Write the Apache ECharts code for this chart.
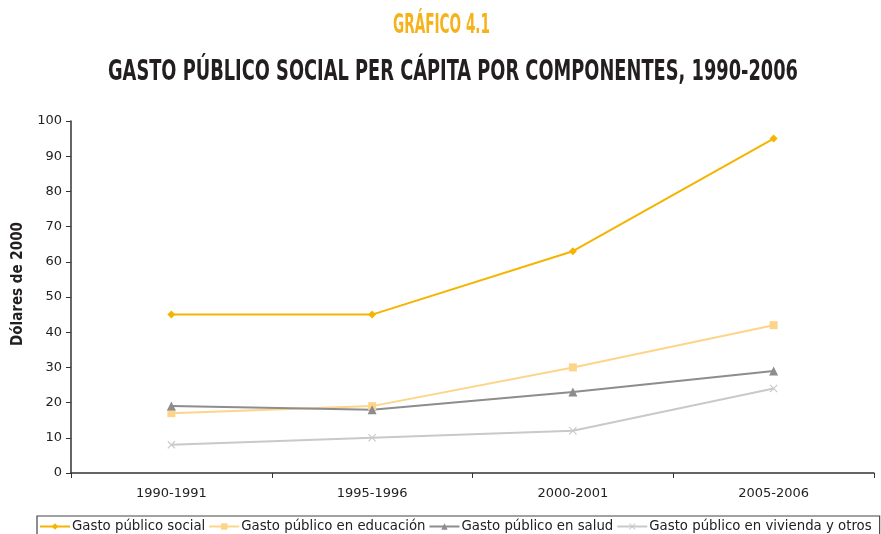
<!DOCTYPE html>
<html>
<head>
<meta charset="utf-8">
<script src="https://cdn.jsdelivr.net/npm/echarts@6/dist/echarts.min.js"></script>
<style>
  html, body { margin: 0; padding: 0; background: #fff; }
  #chart { width: 881px; height: 534px; }
</style>
</head>
<body>
<div id="chart"></div>
<script>
// Periods on the horizontal axis
const periods = ['1990-1991', '1995-1996', '2000-2001', '2005-2006'];

// Per-capita public social spending by component (2000 dollars)
const gastoSocial = [45, 45, 63, 95];
const gastoEducacion = [17, 19, 30, 42];
const gastoSalud = [19, 18, 23, 29];
const gastoVivienda = [8, 10, 12, 24];

const seriesNames = [
  'Gasto público social',
  'Gasto público en educación',
  'Gasto público en salud',
  'Gasto público en vivienda y otros'
];

const yTicks = { min: 0, max: 100, interval: 10 };

const kicker = 'GRÁFICO 4.1';
const heading = 'GASTO PÚBLICO SOCIAL PER CÁPITA POR COMPONENTES, 1990-2006';
const yTitle = 'Dólares de 2000';

// X-shaped marker drawn as a filled outline
const crossSymbol = 'path://M1,0 L5,4 L9,0 L10,1 L6,5 L10,9 L9,10 L5,6 L1,10 L0,9 L4,5 L0,1 Z';

const titleFont = 'DejaVu Sans Condensed';

// Horizontal squeeze so a bold heading fits a target width
function squeeze(text, size, targetWidth) {
  const ctx = document.createElement('canvas').getContext('2d');
  ctx.font = 'bold ' + size + 'px "' + titleFont + '"';
  const w = ctx.measureText(text).width;
  return targetWidth / w;
}

function titleText(text, size, color, centerX, centerY, width) {
  const sx = squeeze(text, size, width);
  return {
    type: 'text',
    x: centerX,
    y: centerY,
    scaleX: sx,
    originX: 0,
    originY: 0,
    style: {
      text: text,
      fontFamily: titleFont,
      fontWeight: 'bold',
      fontSize: size,
      fill: color,
      align: 'center',
      verticalAlign: 'middle'
    },
    silent: true
  };
}

function lineSeries(name, data, color, symbol, size) {
  return {
    name: name,
    type: 'line',
    data: data,
    symbol: symbol,
    symbolSize: size,
    showAllSymbol: true,
    lineStyle: { color: color, width: 2 },
    itemStyle: { color: color },
    emphasis: { disabled: true },
    animation: false
  };
}

const chart = echarts.init(document.getElementById('chart'), null, { renderer: 'canvas' });

chart.setOption({
  backgroundColor: '#ffffff',
  animation: false,
  graphic: [
    titleText(kicker, 26, '#f5b21b', 441.5, 26, 97),
    titleText(heading, 29, '#231f20', 453, 72, 690),
    {
      type: 'text',
      x: 18,
      y: 284,
      rotation: Math.PI / 2,
      style: {
        text: yTitle,
        fontFamily: titleFont,
        fontWeight: 'bold',
        fontSize: 15,
        fill: '#231f20',
        align: 'center',
        verticalAlign: 'middle'
      },
      silent: true
    }
  ],
  legend: {
    left: 37,
    top: 516,
    itemGap: 3,
    itemWidth: 30,
    itemHeight: 8,
    padding: [4, 8, 6, 2],
    borderColor: '#444',
    borderWidth: 1.2,
    textStyle: {
      fontFamily: 'DejaVu Sans',
      fontSize: 13.3,
      color: '#222',
      padding: [0, 0, 0, -3]
    },
    data: seriesNames
  },
  grid: {
    left: 71,
    right: 7,
    top: 121,
    bottom: 61,
    containLabel: false
  },
  xAxis: {
    type: 'category',
    data: periods,
    boundaryGap: true,
    axisLine: { lineStyle: { color: '#333', width: 1.5 } },
    axisTick: { show: true, length: 5, lineStyle: { color: '#333' } },
    axisLabel: {
      fontFamily: 'DejaVu Sans',
      fontSize: 13,
      color: '#222',
      margin: 14
    }
  },
  yAxis: {
    type: 'value',
    min: yTicks.min,
    max: yTicks.max,
    interval: yTicks.interval,
    axisLine: { show: true, lineStyle: { color: '#333', width: 1.5 } },
    axisTick: { show: true, length: 5, inside: false, lineStyle: { color: '#333' } },
    splitLine: { show: false },
    axisLabel: {
      fontFamily: 'DejaVu Sans',
      fontSize: 13,
      color: '#222',
      margin: 9
    }
  },
  series: [
    lineSeries(seriesNames[0], gastoSocial, '#f5b400', 'diamond', 8),
    lineSeries(seriesNames[1], gastoEducacion, '#fdd58a', 'rect', 8),
    lineSeries(seriesNames[2], gastoSalud, '#8e8c8c', 'triangle', 9),
    lineSeries(seriesNames[3], gastoVivienda, '#c9c9c9', crossSymbol, 8)
  ]
});
</script>
</body>
</html>
